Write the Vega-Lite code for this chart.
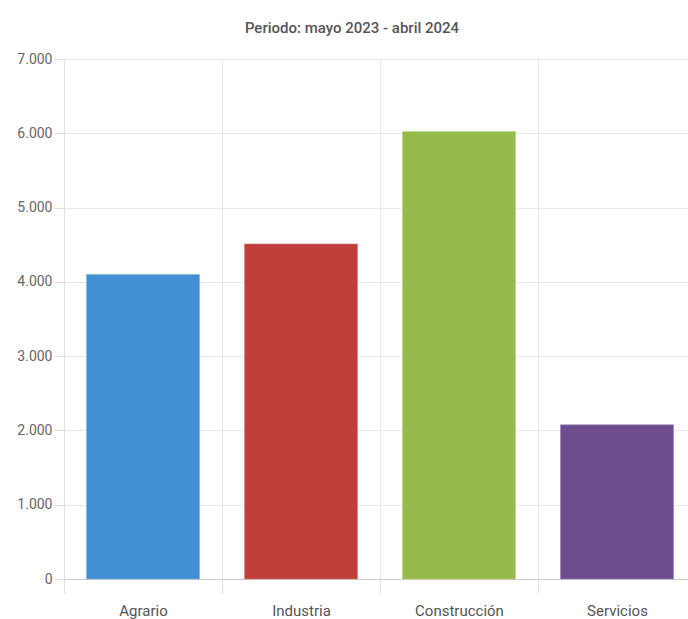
{
  "$schema": "https://vega.github.io/schema/vega-lite/v6.json",
  "width": 632,
  "height": 520,
  "autosize": "none",
  "padding": {"left": 64, "top": 59, "right": -8, "bottom": 40},
  "background": "white",
  "title": {
    "text": "Periodo: mayo 2023 - abril 2024",
    "font": "Roboto, sans-serif",
    "fontSize": 15,
    "fontWeight": 500,
    "color": "#555555",
    "anchor": "middle",
    "dx": -28,
    "offset": 16
  },
  "data": {
    "values": [
      {"sector": "Agrario", "valor": 4100},
      {"sector": "Industria", "valor": 4510},
      {"sector": "Construcción", "valor": 6025},
      {"sector": "Servicios", "valor": 2075}
    ]
  },
  "mark": {"type": "bar", "width": {"band": 0.715}, "strokeWidth": 1, "strokeOpacity": 0.6},
  "encoding": {
    "x": {
      "field": "sector",
      "type": "nominal",
      "sort": null,
      "title": null,
      "scale": {"paddingInner": 0, "paddingOuter": 0},
      "axis": {
        "tickBand": "extent",
        "labelAngle": 0,
        "labelFont": "Roboto, sans-serif",
        "labelFontSize": 15,
        "labelColor": "#555555",
        "labelPadding": 10,
        "tickSize": 14,
        "tickColor": "#e0e0e0",
        "grid": true,
        "gridColor": "#e8e8e8",
        "domainColor": "#cccccc"
      }
    },
    "y": {
      "field": "valor",
      "type": "quantitative",
      "title": null,
      "scale": {"domain": [0, 7000], "nice": false},
      "axis": {
        "values": [0, 1000, 2000, 3000, 4000, 5000, 6000, 7000],
        "format": ",d",
        "labelFont": "Roboto, sans-serif",
        "labelFontSize": 14,
        "labelColor": "#666666",
        "labelPadding": 2,
        "tickSize": 10,
        "tickColor": "#e0e0e0",
        "gridColor": "#e8e8e8",
        "domainColor": "#e0e0e0"
      }
    },
    "color": {
      "field": "sector",
      "type": "nominal",
      "legend": null,
      "scale": {
        "domain": ["Agrario", "Industria", "Construcción", "Servicios"],
        "range": ["#428fd4", "#c03f3a", "#97bb4a", "#6d4c8e"]
      }
    },
    "stroke": {
      "field": "sector",
      "type": "nominal",
      "legend": null,
      "scale": {
        "domain": ["Agrario", "Industria", "Construcción", "Servicios"],
        "range": ["#7fb3e3", "#d67a75", "#b7d384", "#9a80b5"]
      }
    }
  },
  "config": {
    "view": {"stroke": null},
    "locale": {
      "number": {"decimal": ",", "thousands": ".", "grouping": [3], "currency": ["", " €"]}
    }
  }
}
